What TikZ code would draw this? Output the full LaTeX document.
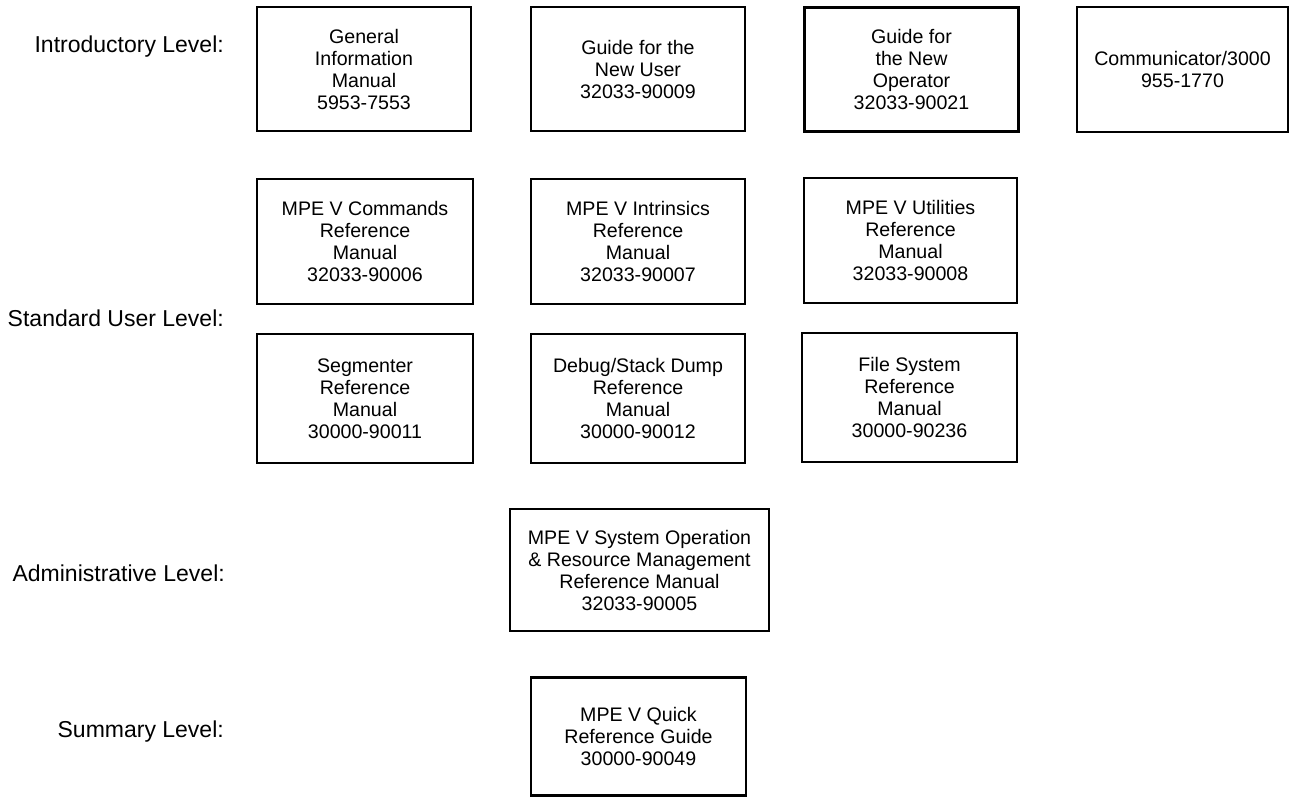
\documentclass[tikz,border=0pt]{standalone}
\usepackage{fontspec}
\setmainfont{Liberation Sans}
\begin{document}
\begin{tikzpicture}[x=1pt,y=-1pt,
  manual/.style={draw=black, line width=2.5pt, inner sep=0pt, align=center,
    minimum width=214pt, minimum height=124pt,
    font=\fontsize{19.6}{22}\selectfont},
  lvl/.style={anchor=east, inner sep=0pt, font=\fontsize{23}{26}\selectfont}]
\useasboundingbox (0,0) rectangle (1290,798);
% level labels
\node[lvl] (Lintro) at (224,47) {Introductory Level:};
\node[lvl] (Lstd)   at (224,318) {Standard User Level:};
\node[lvl] (Ladm)   at (225,573) {Administrative Level:};
\node[lvl] (Lsum)   at (224,732) {Summary Level:};
% introductory
\node[manual] (gim) at (364,69) {General\\Information\\Manual\\5953-7553};
\node[manual] (gnu) at (638,69) {Guide for the\\New User\\32033-90009};
\node[manual] (gno) at (911.5,69.5) {Guide for\\the New\\Operator\\32033-90021};
\node[manual, minimum width=211pt, minimum height=125pt] (com) at (1182.5,69.5) {Communicator/3000\\955-1770};
% standard user
\node[manual, minimum width=216pt, minimum height=125pt] (cmd) at (365,241.5) {MPE V Commands\\Reference\\Manual\\32033-90006};
\node[manual, minimum height=125pt] (intr) at (638,241.5) {MPE V Intrinsics\\Reference\\Manual\\32033-90007};
\node[manual, minimum width=213pt, minimum height=125pt] (util) at (910.5,240.5) {MPE V Utilities\\Reference\\Manual\\32033-90008};
\node[manual, minimum width=216pt, minimum height=129pt] (seg) at (365,398.5) {Segmenter\\Reference\\Manual\\30000-90011};
\node[manual, minimum height=129pt] (dbg) at (638,398.5) {Debug/Stack Dump\\Reference\\Manual\\30000-90012};
\node[manual, minimum width=215pt, minimum height=129pt] (fs) at (909.5,397.5) {File System\\Reference\\Manual\\30000-90236};
% administrative
\node[manual, minimum width=259pt, minimum height=122pt] (sys) at (639.5,570) {MPE V System Operation\\\& Resource Management\\Reference Manual\\32033-90005};
% summary
\node[manual, minimum width=215pt, minimum height=118pt] (qrg) at (638.5,736.5) {MPE V Quick\\Reference Guide\\30000-90049};
\end{tikzpicture}
\end{document}
